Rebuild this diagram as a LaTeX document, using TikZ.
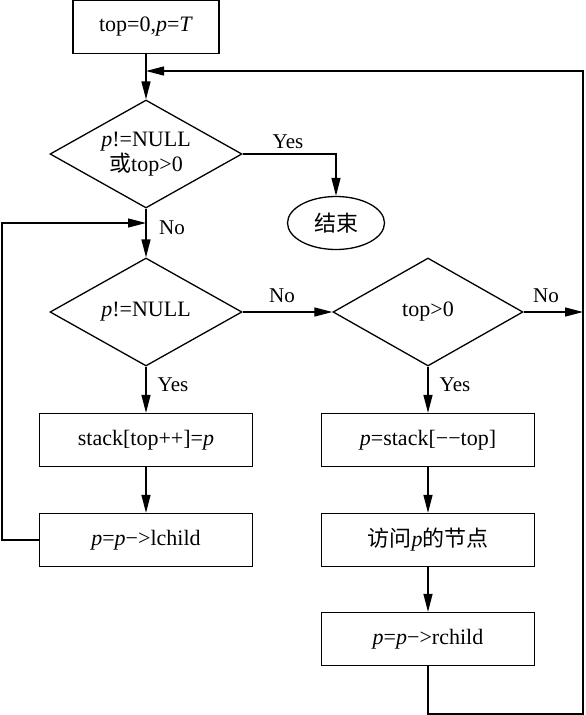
\documentclass[tikz,border=0pt]{standalone}
\usepackage{fontspec}
\setmainfont{Liberation Serif}
\newfontfamily\cjk{Noto Sans CJK SC}
\usetikzlibrary{shapes.geometric,arrows.meta}
\begin{document}
\begin{tikzpicture}[x=1pt,y=-1pt,line width=1.3pt,
    font=\fontsize{22}{25}\selectfont,
    >={Triangle[length=18pt,width=9pt]},
    box/.style={draw,rectangle,minimum width=213pt,minimum height=53pt,inner sep=0pt},
    test/.style={draw,diamond,aspect=1.78,minimum width=192pt,minimum height=108pt,inner sep=0pt,align=center},
    lab/.style={inner sep=0pt,font=\fontsize{21}{25}\selectfont}]
  \useasboundingbox (0,0) rectangle (586,715);
  % left column
  \node[box,minimum width=146pt] (init) at (146,27) {top=0,\textit{p}=\textit{T}};
  \node[test] (loop) at (146,154) {\textit{p}!=NULL\\{\cjk 或}top>0};
  \node[draw,ellipse,minimum width=97pt,minimum height=53pt,inner sep=0pt] (stop) at (336,223) {\cjk 结束};
  \node[test] (isnull) at (146,312) {\textit{p}!=NULL};
  \node[box] (push) at (146,440) {stack[top++]=\textit{p}};
  \node[box] (left) at (146,540) {\textit{p}=\textit{p}−>lchild};
  % right column
  \node[test,minimum width=190pt] (empty) at (428,312) {top>0};
  \node[box] (pop) at (428,440) {\textit{p}=stack[−−top]};
  \node[box] (visit) at (428,540) {{\cjk 访问}\textit{p}{\cjk 的节点}};
  \node[box] (right) at (428,639) {\textit{p}=\textit{p}−>rchild};
  % joints
  \coordinate (j1) at (146,71);
  \coordinate (j2) at (146,223);
  \coordinate (j3) at (583,312);
  \coordinate (rbot) at (583,714);
  \coordinate (rtop) at (583,71);
  \coordinate (ltop) at (2,223);
  % arrows
  \draw[->] (init) -- (loop);
  \draw[->] (loop.east) -| (stop.north);
  \draw[->] (loop) -- (isnull);
  \draw[->] (isnull) -- (empty);
  \draw[->] (empty) -- (j3);
  \draw[->] (isnull) -- (push);
  \draw[->] (push) -- (left);
  \draw[->] (left.west) -| (ltop) -- (j2);
  \draw[->] (empty) -- (pop);
  \draw[->] (pop) -- (visit);
  \draw[->] (visit) -- (right);
  \draw[->] (right) |- (rbot) -- (rtop) -- (j1);
  % labels
  \node[lab] (yes1) at (288,142) {Yes};
  \node[lab] (no1) at (172,228) {No};
  \node[lab] (no2) at (282,296) {No};
  \node[lab] (no3) at (546,296) {No};
  \node[lab] (yes2) at (173,385) {Yes};
  \node[lab] (yes3) at (455,385) {Yes};
\end{tikzpicture}
\end{document}
